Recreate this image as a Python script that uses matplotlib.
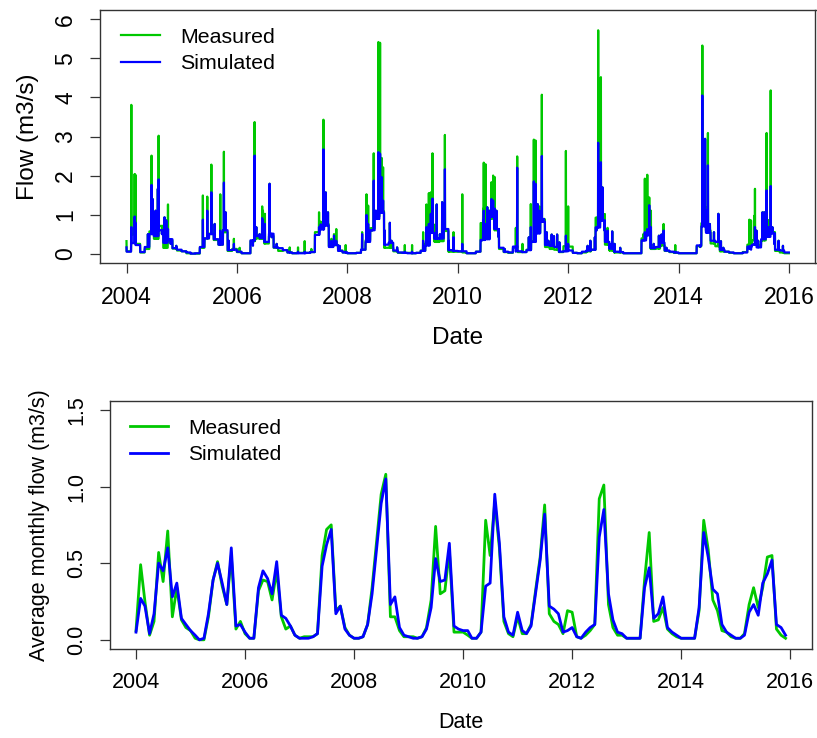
import numpy as np
import pandas as pd
import matplotlib
matplotlib.use('Agg')
import matplotlib.pyplot as plt

plt.rcParams['font.family'] = ['Liberation Sans', 'DejaVu Sans']

# monthly averages Jan 2004 .. Dec 2015 (m3/s)
meas_month = [0.06, 0.49, 0.25, 0.03, 0.12, 0.57, 0.38, 0.71, 0.15, 0.34, 0.13, 0.08,
              0.06, 0.01, 0.00, 0.00, 0.15, 0.39, 0.51, 0.35, 0.23, 0.55, 0.07, 0.12,
              0.04, 0.01, 0.01, 0.32, 0.39, 0.38, 0.26, 0.45, 0.15, 0.07, 0.09, 0.03,
              0.01, 0.02, 0.02, 0.02, 0.04, 0.55, 0.72, 0.75, 0.19, 0.22, 0.08, 0.03,
              0.01, 0.01, 0.02, 0.10, 0.34, 0.65, 0.95, 1.08, 0.15, 0.15, 0.06, 0.02,
              0.02, 0.02, 0.01, 0.02, 0.08, 0.26, 0.74, 0.30, 0.32, 0.58, 0.05, 0.05,
              0.05, 0.03, 0.01, 0.01, 0.05, 0.78, 0.55, 0.90, 0.60, 0.12, 0.04, 0.02,
              0.15, 0.04, 0.04, 0.10, 0.32, 0.54, 0.88, 0.17, 0.12, 0.10, 0.04, 0.19,
              0.18, 0.02, 0.01, 0.03, 0.06, 0.10, 0.92, 1.01, 0.23, 0.08, 0.03, 0.03,
              0.01, 0.01, 0.01, 0.01, 0.39, 0.70, 0.12, 0.13, 0.21, 0.07, 0.04, 0.02,
              0.01, 0.01, 0.01, 0.01, 0.19, 0.78, 0.59, 0.26, 0.19, 0.06, 0.05, 0.02,
              0.01, 0.01, 0.04, 0.23, 0.34, 0.21, 0.34, 0.54, 0.55, 0.07, 0.03, 0.01]
sim_month = [0.05, 0.27, 0.22, 0.04, 0.17, 0.50, 0.45, 0.60, 0.28, 0.37, 0.14, 0.10,
             0.06, 0.03, 0.00, 0.01, 0.17, 0.39, 0.50, 0.37, 0.23, 0.60, 0.09, 0.10,
             0.05, 0.01, 0.01, 0.34, 0.45, 0.40, 0.30, 0.51, 0.16, 0.14, 0.09, 0.03,
             0.01, 0.01, 0.01, 0.02, 0.04, 0.48, 0.62, 0.72, 0.17, 0.22, 0.07, 0.03,
             0.01, 0.01, 0.02, 0.10, 0.30, 0.60, 0.89, 1.05, 0.23, 0.28, 0.08, 0.03,
             0.02, 0.01, 0.01, 0.02, 0.07, 0.21, 0.53, 0.38, 0.39, 0.63, 0.09, 0.07,
             0.06, 0.06, 0.01, 0.01, 0.05, 0.35, 0.37, 0.95, 0.63, 0.15, 0.05, 0.03,
             0.18, 0.06, 0.04, 0.09, 0.30, 0.52, 0.82, 0.22, 0.20, 0.17, 0.05, 0.06,
             0.08, 0.02, 0.01, 0.05, 0.08, 0.10, 0.67, 0.85, 0.30, 0.13, 0.05, 0.04,
             0.01, 0.01, 0.01, 0.01, 0.34, 0.47, 0.14, 0.17, 0.28, 0.08, 0.05, 0.03,
             0.01, 0.01, 0.01, 0.01, 0.21, 0.70, 0.54, 0.33, 0.30, 0.10, 0.05, 0.03,
             0.01, 0.01, 0.03, 0.18, 0.23, 0.16, 0.37, 0.43, 0.52, 0.10, 0.08, 0.03]

# daily peaks: decimal year, measured, simulated
ev_year = [2004.00, 2004.085, 2004.145, 2004.16, 2004.386, 2004.453, 2004.47, 2004.525, 2004.567,
           2004.58, 2004.64, 2004.688, 2004.72, 2004.749, 2004.80, 2004.90,
           2005.383, 2005.462, 2005.535, 2005.595, 2005.698, 2005.764, 2005.794, 2005.85,
           2005.945, 2006.048, 2006.29, 2006.32, 2006.35, 2006.41, 2006.457, 2006.47,
           2006.506, 2006.59, 2006.63, 2006.72, 2006.954, 2007.105, 2007.226, 2007.346,
           2007.486, 2007.516, 2007.565, 2007.607, 2007.649, 2007.71, 2007.758, 2007.80,
           2007.86, 2007.969,
           2008.266, 2008.345, 2008.375, 2008.447, 2008.477, 2008.514, 2008.562, 2008.592,
           2008.622, 2008.647, 2008.677, 2008.768, 2008.80, 2008.90, 2009.04, 2009.17,
           2009.37, 2009.432, 2009.474, 2009.511, 2009.541, 2009.583, 2009.619, 2009.674,
           2009.716, 2009.765, 2009.837, 2009.921, 2010.08, 2010.429, 2010.459, 2010.47,
           2010.502, 2010.532, 2010.568, 2010.61, 2010.64, 2010.67, 2010.70, 2010.74,
           2010.85, 2011.051, 2011.075, 2011.172, 2011.287, 2011.323, 2011.378, 2011.408,
           2011.444, 2011.474, 2011.523, 2011.559, 2011.61, 2011.64, 2011.70, 2011.74,
           2011.80, 2011.84, 2011.958, 2011.999, 2012.35, 2012.40,
           2012.483, 2012.51, 2012.543, 2012.592, 2012.62, 2012.66, 2012.712, 2012.75,
           2012.797, 2012.84, 2012.94, 2013.359, 2013.389, 2013.431, 2013.468, 2013.498,
           2013.55, 2013.643, 2013.69, 2013.727, 2013.78, 2013.939, 2014.39, 2014.428,
           2014.477, 2014.50, 2014.531, 2014.567, 2014.64, 2014.718, 2014.766, 2014.81,
           2015.28, 2015.31, 2015.37, 2015.383, 2015.41, 2015.44, 2015.52, 2015.552,
           2015.593, 2015.625, 2015.667, 2015.697, 2015.73, 2015.81, 2015.89]
ev_meas = [0.32, 3.81, 2.04, 2.02, 0.50, 2.51, 1.40, 1.10, 1.66,
           3.02, 0.50, 0.93, 0.85, 1.26, 0.25, 0.20,
           1.49, 1.46, 2.28, 0.76, 1.52, 2.61, 1.06, 0.33,
           0.38, 0.15, 0.33, 3.37, 0.68, 0.50, 1.21, 1.10,
           1.02, 1.79, 0.42, 0.25, 0.16, 0.16, 0.32, 0.12,
           1.06, 0.82, 3.43, 1.57, 1.06, 0.38, 0.50, 0.63,
           0.20, 0.22,
           0.55, 1.52, 1.23, 0.59, 2.57, 1.10, 5.42, 5.40,
           2.45, 2.21, 0.59, 0.79, 0.33, 0.16, 0.22, 0.22,
           0.55, 1.26, 1.55, 1.57, 2.57, 0.50, 1.26, 0.50,
           1.32, 3.04, 0.33, 0.55, 1.52, 0.33, 1.15, 2.33,
           2.29, 1.19, 1.10, 1.83, 2.00, 1.96, 1.10, 0.42,
           0.12, 0.66, 2.49, 0.25, 0.42, 1.27, 2.92, 2.90,
           1.27, 1.21, 4.07, 0.89, 0.55, 0.33, 0.49, 0.45,
           0.49, 0.29, 2.63, 1.21, 0.20, 0.33,
           0.42, 0.59, 5.72, 4.52, 1.70, 0.59, 0.66, 0.25,
           0.57, 0.25, 0.15, 0.50, 1.92, 2.02, 1.44, 1.10,
           0.25, 0.46, 0.49, 0.76, 0.15, 0.22, 0.17, 5.33,
           2.94, 1.19, 3.09, 0.76, 0.55, 1.02, 0.32, 0.15,
           0.87, 0.85, 0.97, 1.66, 0.59, 0.33, 1.06, 1.06,
           3.09, 0.86, 4.18, 0.68, 0.25, 0.33, 0.20]
ev_sim = [0.16, 0.68, 0.95, 0.80, 0.50, 1.76, 1.40, 1.10, 1.66,
          1.90, 0.50, 0.93, 0.85, 0.63, 0.25, 0.20,
          0.87, 1.10, 1.57, 0.76, 0.59, 1.82, 1.06, 0.33,
          0.25, 0.05, 0.20, 2.51, 0.68, 0.50, 0.91, 0.85,
          0.76, 1.79, 0.42, 0.25, 0.05, 0.05, 0.05, 0.05,
          0.68, 0.75, 2.67, 1.57, 1.06, 0.33, 0.46, 0.33,
          0.20, 0.05,
          0.50, 0.99, 0.76, 0.59, 1.87, 1.10, 2.60, 2.56,
          1.96, 1.36, 0.59, 0.79, 0.33, 0.16, 0.05, 0.05,
          0.33, 0.68, 0.76, 1.02, 1.41, 0.50, 1.26, 0.50,
          1.32, 2.16, 0.33, 0.42, 0.25, 0.33, 0.85, 1.10,
          0.76, 1.19, 1.10, 1.40, 1.36, 1.15, 1.10, 0.42,
          0.12, 0.05, 2.20, 0.05, 0.42, 0.68, 1.85, 1.79,
          1.27, 1.10, 2.50, 0.89, 0.55, 0.33, 0.49, 0.45,
          0.49, 0.29, 0.46, 0.25, 0.20, 0.33,
          0.42, 0.59, 2.84, 2.34, 1.70, 0.59, 0.59, 0.25,
          0.57, 0.25, 0.15, 0.33, 0.55, 0.63, 1.24, 0.68,
          0.25, 0.46, 0.49, 0.59, 0.15, 0.05, 0.17, 4.05,
          2.94, 1.10, 2.26, 0.76, 0.55, 1.02, 0.32, 0.15,
          0.12, 0.10, 0.25, 0.68, 0.59, 0.33, 1.06, 1.06,
          1.62, 0.68, 1.73, 0.68, 0.25, 0.33, 0.20]

GREEN = '#00C800'
BLUE = '#0000FF'


def dec_year(d):
    return d.year + (d.dayofyear - 1) / np.where(d.is_leap_year, 366, 365)


# daily series: month level with the storm peaks put on their days
days = pd.date_range('2004-01-01', '2015-12-31', freq='D')
t_day = dec_year(days)
mi = (days.year - 2004) * 12 + days.month - 1
meas_day = np.array(meas_month)[mi]
sim_day = np.array(sim_month)[mi]
idx = np.clip(np.searchsorted(t_day, ev_year), 0, len(t_day) - 1)
meas_day[idx] = ev_meas
sim_day[idx] = ev_sim

months = pd.date_range('2004-01-01', periods=144, freq='MS')
t_month = dec_year(months)

fig = plt.figure(figsize=(8.17, 7.38), dpi=100)
ax1 = fig.add_axes([100 / 817, 1 - 263 / 738, 715.5 / 817, 253 / 738])
ax2 = fig.add_axes([110 / 817, 1 - 649 / 738, 702 / 817, 248.3 / 738])

ax1.plot(t_day, meas_day, color=GREEN, lw=1.6, label='Measured')
ax1.plot(t_day, sim_day, color=BLUE, lw=1.6, label='Simulated')
ax1.set_xlim(2003.52, 2016.48)
ax1.set_ylim(-0.24, 6.24)
ax1.set_yticks(range(0, 7))

ax2.plot(t_month, meas_month, color=GREEN, lw=2, label='Measured')
ax2.plot(t_month, sim_month, color=BLUE, lw=2, label='Simulated')
ax2.set_xlim(2003.523, 2016.40)
ax2.set_ylim(-0.06, 1.56)
ax2.set_yticks([0.0, 0.5, 1.0, 1.5])
ax2.set_yticklabels(['0.0', '0.5', '1.0', '1.5'])

for ax, fs, lfs in [(ax1, 16.5, 17.5), (ax2, 15.5, 15.5)]:
    ax.set_xticks(range(2004, 2017, 2))
    ax.tick_params(direction='out', length=7.5, width=0.9, labelsize=fs,
                   color='#333333', pad=9)
    for lab in ax.get_yticklabels():
        lab.set_rotation(90)
        lab.set_va('center')
    for s in ax.spines.values():
        s.set_color('#333333')
        s.set_linewidth(1)
    ax.set_xlabel('Date', fontsize=lfs, va='center')

ax1.set_ylabel('Flow (m3/s)', fontsize=17.5, va='center')
ax1.xaxis.set_label_coords(0.5, (263 - 338) / 253)
ax1.yaxis.set_label_coords(-72 / 715.5, 0.5)
ax2.set_ylabel('Average monthly flow (m3/s)', fontsize=15.5, va='center')
ax2.xaxis.set_label_coords(0.5, (649 - 723) / 248.3)
ax2.yaxis.set_label_coords(-70 / 702, 0.5)

ax1.legend(loc='upper left', bbox_to_anchor=(0.0293, 0.93), frameon=False,
           fontsize=15.4, handlelength=1.82, handletextpad=0.93,
           labelspacing=0.35, borderpad=0, borderaxespad=0)
ax2.legend(loc='upper left', bbox_to_anchor=(0.0285, 0.928), frameon=False,
           fontsize=15, handlelength=1.83, handletextpad=0.96,
           labelspacing=0.35, borderpad=0, borderaxespad=0)

fig.savefig('out.png', dpi=100)
